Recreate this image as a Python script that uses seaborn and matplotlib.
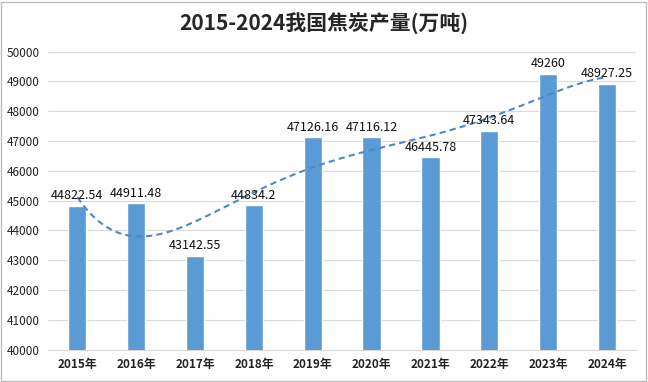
import numpy as np
import pandas as pd
import matplotlib
matplotlib.use('Agg')
import matplotlib.pyplot as plt
import seaborn as sns

# data
years = ['2015年', '2016年', '2017年', '2018年', '2019年',
         '2020年', '2021年', '2022年', '2023年', '2024年']
output = [44822.54, 44911.48, 43142.55, 44834.2, 47126.16,
          47116.12, 46445.78, 47343.64, 49260, 48927.25]
labels = ['44822.54', '44911.48', '43142.55', '44834.2', '47126.16',
          '47116.12', '46445.78', '47343.64', '49260', '48927.25']

df = pd.DataFrame({'year': years, 'output': output})

sns.set_style('white')
plt.rcParams['font.family'] = ['Noto Sans CJK SC', 'DejaVu Sans']

fig = plt.figure(figsize=(6.48, 3.82), dpi=100)
ax = fig.add_axes([0.074, 0.085, 0.908, 0.78])

sns.barplot(data=df, x='year', y='output', color='#5B9BD5', width=0.31,
            saturation=1, ax=ax, zorder=3)

# polynomial trend line (degree 5) like the Excel one
xi = np.arange(len(output))
coef = np.polyfit(xi, output, 5)
xs = np.linspace(0, len(output) - 1, 200)
ax.plot(xs, np.polyval(coef, xs), ls=(0, (3, 2)), color='#4F88C6',
        lw=1.5, zorder=4)

for i, v in enumerate(output):
    ax.text(i, v + 120, labels[i], ha='center', va='bottom', fontsize=9,
            color='#111111', zorder=5)

ax.set_ylim(40000, 50000)
ax.set_yticks(range(40000, 50001, 1000))
ax.set_xlim(-0.5, len(years) - 0.5)
ax.grid(axis='y', color='#D9D9D9', lw=0.8, zorder=0)
ax.set_xlabel('')
ax.set_ylabel('')
for s in ['top', 'right', 'left']:
    ax.spines[s].set_visible(False)
ax.spines['bottom'].set_color('#D9D9D9')
ax.tick_params(axis='both', length=0, labelsize=8.5, pad=6, labelcolor='#222222')
for t in ax.get_xticklabels():
    t.set_fontweight('bold')

fig.suptitle('2015-2024我国焦炭产量(万吨)', fontsize=15, fontweight='bold', y=0.965)

border = plt.Rectangle((0.002, 0.003), 0.995, 0.993, transform=fig.transFigure,
                       fill=False, ec='#BFBFBF', lw=1)
fig.patches.append(border)

fig.savefig('out.png', dpi=100)
